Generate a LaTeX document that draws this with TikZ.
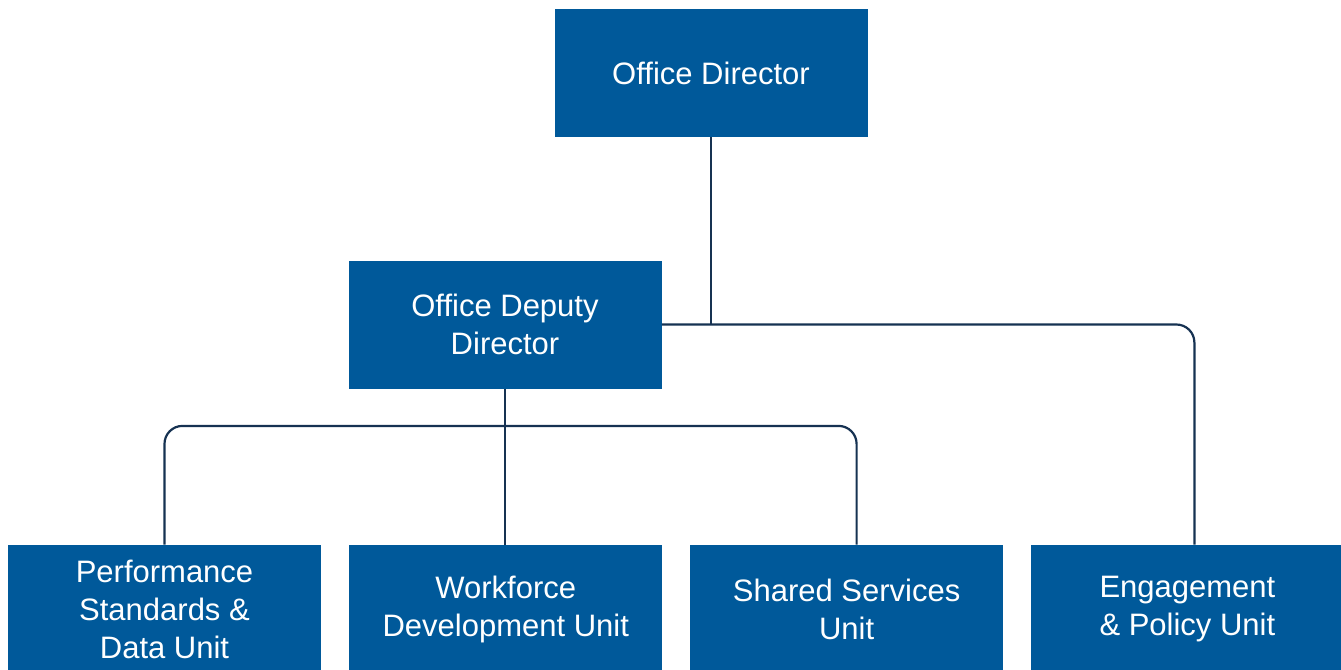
\documentclass[tikz,border=0pt]{standalone}
\usepackage{fontspec}
\setsansfont{Liberation Sans}
\usepackage{xcolor}
\usetikzlibrary{positioning}
\usetikzlibrary{calc}
\definecolor{unitblue}{RGB}{0,89,154}
\definecolor{linknavy}{RGB}{22,50,82}

\begin{document}
\begin{tikzpicture}[x=0.5pt, y=-0.5pt, font=\sffamily, node distance=13.75pt]
    \tikzstyle{unit}=[draw=none,rectangle,fill=unitblue,text=white,minimum width=156.5pt,minimum height=64pt,inner sep=0pt,align=center,font=\sffamily\fontsize{15.5}{19}\selectfont]
    \tikzstyle{link}=[draw=linknavy,line width=1.1pt,rounded corners=9pt]

    \useasboundingbox (0,0) rectangle (1341,670);
    \clip (0,0) rectangle (1341,670);

    \node[unit] (dir) at (711,73) {Office Director};
    \node[unit] (dep) at (505,324.5) {Office Deputy\\Director};

    \node[unit] (perf) at (164.5,609) {Performance\\Standards \&\\Data Unit};
    \node[unit, right=of perf] (work) {Workforce\\Development Unit};
    \node[unit, right=13.5pt of work] (shared) {Shared Services\\Unit};
    \node[unit, right=13.5pt of shared] (eng) {Engagement\\\& Policy Unit};

    \coordinate (bus) at ($(dep.south)+(0,37)$);

    \draw[link] (dir.south) -- (dir.south |- dep.east);
    \draw[link] (dep.east) -| ([xshift=3.5pt]eng.north);
    \draw[link] (perf.north) |- (bus) -| ([xshift=5pt]shared.north);
    \draw[link] (dep.south) -- (dep.south |- work.north);
\end{tikzpicture}
\end{document}
